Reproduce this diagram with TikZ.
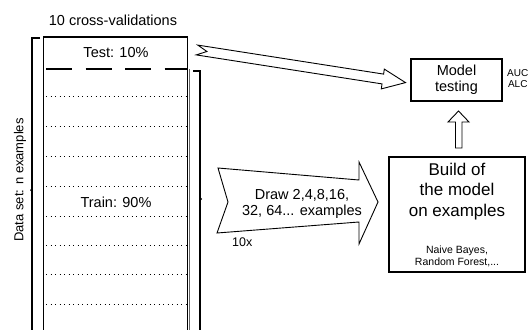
\documentclass[tikz,border=0pt]{standalone}
\usepackage{fontspec}
\setmainfont{Liberation Sans}
\begin{document}
\begin{tikzpicture}[x=1pt,y=-1pt,line join=miter,
  lbl/.style={inner sep=0pt,align=center},
  boxln/.style={line width=1.3pt},
  arrowln/.style={line width=0.9pt},
  dotln/.style={line width=1pt,dash pattern=on 1pt off 3.5pt},
  fA/.style={font=\fontsize{14.5}{16.5}\selectfont},
  fB/.style={font=\fontsize{17}{20.5}\selectfont},
  fC/.style={font=\fontsize{10.5}{12}\selectfont},
  fD/.style={font=\fontsize{10}{11}\selectfont}]
\useasboundingbox (0,0) rectangle (529,329);
\clip (0,0) rectangle (529,329);
% column
\draw[boxln] (43.5,340) -- (43.5,37) -- (187.5,37) -- (187.5,340);
\draw[line width=1pt,black!60] (189.5,69) -- (189.5,340);
\draw[line width=1.6pt,dash pattern=on 26pt off 13.5pt] (46,69) -- (188,69);
\foreach \y in {96,126,156,186,216,245,274,304}
  \draw[dotln] (46,\y) -- (186,\y);
% brackets
\draw[boxln] (40,38) -- (32,38) -- (32,340);
\fill (32,188) -- (30,190) -- (32,192) -- cycle;
\draw[boxln] (193,71) -- (200,71) -- (200,340);
\fill (200,197) -- (202,199) -- (200,201) -- cycle;
% texts
\node[lbl,fA] (cv) at (113,20) {10 cross-validations};
\node[lbl,fA] (test) at (116,53) {Test: 10\%};
\node[lbl,fA] (train) at (116,202) {Train: 90\%};
\node[lbl,font=\fontsize{13}{15}\selectfont,rotate=90] (ds) at (20,180) {Data set: n examples};
% model testing box
\node[draw,boxln,minimum width=91pt,minimum height=42pt,inner sep=0pt] (mt) at (456.5,80) {};
\node[lbl,fA] (mtt) at (456.5,80) {Model\\testing};
\node[lbl,fD,anchor=west] (auc) at (507,78.5) {AUC\\ALC};
% build box
\node[draw,boxln,minimum width=136pt,minimum height=115pt,inner sep=0pt] (bb) at (457,214.5) {};
\node[lbl,fB] (bbt) at (457,191.5) {Build of\\the model\\on examples};
\node[lbl,fC] (bbs) at (457,256) {Naive Bayes,\\Random Forest,...};
% thin double arrow from test to model testing
\draw[arrowln] (197.8,45.1) -- (383.6,74.1) -- (384.3,69.1) -- (405.5,82.6)
  -- (381.3,88.9) -- (382.0,83.9) -- (196.2,54.9) -- (206.9,51.5) -- cycle;
% up arrow from build to model testing
\draw[arrowln] (455.5,148) -- (455.5,122) -- (448,122) -- (458.5,111)
  -- (469,122) -- (462,122) -- (462,148) -- cycle;
% big arrow
\draw[arrowln] (218,168) -- (359,180) -- (359,162) -- (378,202) -- (359,244)
  -- (359,222) -- (217,233) -- (228,202) -- cycle;
\node[lbl,fA] (draw) at (302,204) {Draw 2,4,8,16,\\32, 64... examples};
\node[lbl,font=\fontsize{12.5}{14}\selectfont,anchor=west] (tenx) at (232,242) {10x};
\end{tikzpicture}
\end{document}
